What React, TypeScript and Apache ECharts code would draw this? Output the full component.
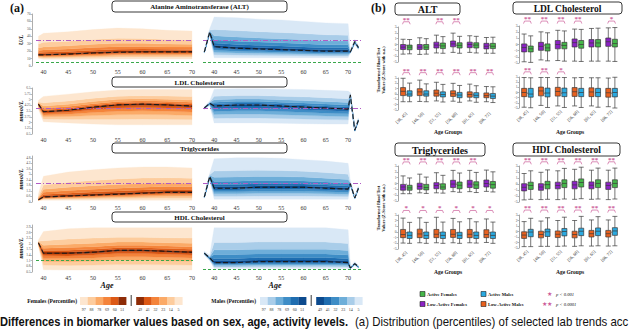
import React, { useEffect, useRef } from 'react';
import * as echarts from 'echarts';

// ---------------- Panel (a): percentile fans ----------------
const AGE_TICKS = [40, 45, 50, 55, 60, 65, 70];
const FEMALE_AGES = [39, 40, 45, 50, 55, 60, 65, 70];
const MALE_AGES = [37.8, 39, 40, 45, 50, 55, 60, 65, 70, 70.5, 71.5, 72.3];

// ALT (U/L)
const ALT_F_MEDIAN = [15, 15, 16, 17.5, 18.5, 19, 19, 19];
const ALT_F_P97 = [40, 44, 46, 49, 51, 50, 48, 47];
const ALT_F_P5 = [10, 9, 9, 9, 9.5, 9.5, 9.5, 9.5];
const ALT_M_MEDIAN = [19, 46, 26, 24, 23, 22, 21, 20, 20, 19, 33, 25];
const ALT_M_P97 = [21, 50, 66, 65, 63, 62, 60, 58, 57, 21, 36, 28];
const ALT_M_P5 = [17, 42, 11, 11, 11, 11, 11, 11, 11, 17, 29, 22];

// LDL cholesterol (mmol/L)
const LDL_F_MEDIAN = [4.4, 3.4, 3.6, 4.0, 4.3, 4.4, 4.3, 4.15];
const LDL_F_P97 = [4.9, 5.4, 5.7, 6.0, 6.25, 6.3, 6.3, 6.3];
const LDL_F_P5 = [3.7, 2.1, 1.95, 1.8, 1.7, 1.7, 1.7, 1.7];
const LDL_M_MEDIAN = [3.9, 4.5, 4.15, 4.28, 4.28, 4.15, 4.02, 3.89, 3.75, 5.6, 1.0, 2.3];
const LDL_M_P97 = [4.1, 4.8, 6.35, 6.4, 6.4, 6.35, 6.3, 6.2, 6.1, 5.9, 1.3, 2.6];
const LDL_M_P5 = [3.7, 4.2, 1.95, 1.95, 1.95, 1.9, 1.85, 1.8, 1.8, 5.3, 0.8, 2.0];

// Triglycerides (mmol/L)
const TRI_F_MEDIAN = [0.25, 0.55, 0.65, 0.75, 0.85, 0.95, 1.05, 1.05];
const TRI_F_P97 = [0.9, 2.8, 3.25, 3.5, 3.7, 3.8, 3.8, 3.7];
const TRI_F_P5 = [0.15, 0.2, 0.2, 0.2, 0.2, 0.2, 0.2, 0.2];
const TRI_M_MEDIAN = [0.55, 2.8, 1.5, 1.5, 1.6, 1.6, 1.6, 1.5, 1.4, 2.0, 0.45, 1.5];
const TRI_M_P97 = [0.7, 3.1, 4.7, 4.8, 4.8, 4.75, 4.6, 4.45, 4.2, 2.3, 0.6, 1.7];
const TRI_M_P5 = [0.4, 2.4, 0.3, 0.3, 0.3, 0.3, 0.3, 0.3, 0.3, 1.7, 0.3, 1.3];

// HDL cholesterol (mmol/L)
const HDL_F_MEDIAN = [2.05, 1.5, 1.5, 1.55, 1.65, 1.65, 1.6, 1.55];
const HDL_F_P97 = [2.2, 2.65, 2.8, 2.85, 2.85, 2.85, 2.85, 2.85];
const HDL_F_P5 = [1.9, 0.62, 0.6, 0.6, 0.6, 0.6, 0.6, 0.6];
const HDL_M_MEDIAN = [1.5, 1.25, 1.0, 1.0, 1.05, 1.05, 1.05, 1.05, 1.0, 0.72, 0.95, 0.78];
const HDL_M_P97 = [1.6, 1.4, 2.85, 2.85, 2.85, 2.85, 2.85, 2.85, 2.75, 0.8, 1.05, 0.85];
const HDL_M_P5 = [1.4, 1.1, 0.68, 0.68, 0.68, 0.68, 0.68, 0.68, 0.68, 0.66, 0.85, 0.7];

// relative position of the inner percentiles between median and the 5th / 97th
const LOWER_FRAC = [1, 0.72, 0.5, 0.32, 0.16, 0.05]; // p5 p14 p23 p32 p41 p49
const UPPER_FRAC = [0.05, 0.12, 0.23, 0.37, 0.58, 1]; // p51 p60 p69 p78 p88 p97
const BAND_SHADE = [0, 1, 2, 3, 4, 5, 4, 3, 2, 1, 0];

const LEGEND_UP = ['97', '88', '78', '69', '60', '51'];
const LEGEND_DOWN = ['49', '41', '32', '23', '14', '5'];

// ---------------- Panel (b): box plots ----------------
const AGE_GROUPS = ['[38, 45]', '[46, 50]', '[51, 55]', '[56, 60]', '[61, 65]', '[66, 72]'];

const ALT_LOW_F = [[-1.65, -0.85, -0.45, 0.0, 0.9], [-1.7, -0.85, -0.45, 0.0, 1.15], [-1.45, -0.6, -0.1, 0.4, 1.6], [-1.35, -0.4, 0.1, 0.6, 1.95], [-1.35, -0.55, 0.0, 0.4, 1.5], [-1.5, -0.75, -0.3, 0.2, 1.2]];
const ALT_ACT_F = [[-1.6, -0.9, -0.45, -0.1, 0.85], [-1.65, -0.85, -0.45, 0.0, 1.0], [-1.5, -0.7, -0.25, 0.25, 1.35], [-1.5, -0.6, -0.15, 0.3, 1.4], [-1.45, -0.6, -0.1, 0.3, 1.4], [-1.5, -0.7, -0.3, 0.2, 1.25]];
const ALT_LOW_M = [[-1.45, -0.3, 0.5, 1.2, 2.95], [-1.4, -0.3, 0.4, 1.0, 2.6], [-1.3, -0.4, 0.15, 0.75, 2.2], [-1.35, -0.45, 0.05, 0.6, 2.0], [-1.3, -0.6, -0.1, 0.4, 1.85], [-1.45, -0.7, -0.3, 0.2, 1.4]];
const ALT_ACT_M = [[-1.45, -0.4, 0.0, 0.6, 2.05], [-1.45, -0.4, 0.0, 0.6, 1.9], [-1.5, -0.55, -0.1, 0.4, 1.8], [-1.55, -0.7, -0.2, 0.3, 1.6], [-1.55, -0.7, -0.25, 0.25, 1.55], [-1.6, -0.85, -0.4, 0.1, 1.35]];

const LDL_LOW_F = [[-2.8, -1.2, -0.5, 0.1, 1.7], [-2.5, -0.95, -0.3, 0.35, 2.05], [-2.6, -0.7, 0.0, 0.65, 2.3], [-2.7, -0.4, 0.3, 0.9, 2.5], [-2.7, -0.4, 0.25, 0.8, 2.6], [-2.7, -0.3, 0.45, 1.05, 2.7]];
const LDL_ACT_F = [[-2.9, -1.2, -0.7, -0.25, 1.4], [-2.65, -1.05, -0.55, 0.1, 1.9], [-2.7, -0.7, -0.15, 0.35, 2.2], [-2.75, -0.6, 0.0, 0.65, 2.45], [-2.7, -0.4, 0.25, 0.8, 2.65], [-2.75, -0.4, 0.15, 0.85, 2.75]];
const LDL_LOW_M = [[-2.85, -0.8, 0.0, 0.8, 2.9], [-2.5, -0.65, 0.3, 1.05, 2.9], [-2.6, -0.7, 0.2, 1.0, 2.9], [-2.6, -0.75, 0.15, 0.95, 2.85], [-2.6, -0.8, 0.1, 0.9, 2.85], [-2.75, -0.9, -0.05, 0.8, 2.8]];
const LDL_ACT_M = [[-2.95, -0.9, -0.3, 0.8, 2.85], [-2.9, -0.85, -0.1, 0.85, 2.9], [-2.9, -0.8, -0.05, 0.85, 2.9], [-2.9, -0.8, 0.0, 0.8, 2.9], [-2.85, -0.8, 0.0, 0.8, 2.85], [-3.0, -0.85, 0.0, 0.8, 2.95]];

const TRI_LOW_F = [[-1.75, -1.15, -0.6, -0.15, 1.3], [-1.6, -1.0, -0.5, 0.05, 1.6], [-1.6, -0.9, -0.35, 0.15, 1.85], [-1.4, -0.7, -0.1, 0.55, 2.25], [-1.4, -0.7, -0.1, 0.55, 2.25], [-1.35, -0.6, 0.0, 0.6, 2.3]];
const TRI_ACT_F = [[-1.75, -1.15, -0.75, -0.3, 0.95], [-1.7, -1.1, -0.7, -0.15, 1.1], [-1.65, -1.0, -0.6, -0.05, 1.4], [-1.5, -0.9, -0.3, 0.25, 1.8], [-1.55, -0.85, -0.25, 0.3, 1.9], [-1.45, -0.8, -0.2, 0.35, 2.0]];
const TRI_LOW_M = [[-1.95, -1.0, -0.45, 0.45, 2.45], [-1.9, -1.0, -0.35, 0.5, 2.5], [-1.9, -1.0, -0.4, 0.45, 2.6], [-1.9, -0.95, -0.4, 0.45, 2.4], [-1.9, -1.0, -0.4, 0.45, 2.35], [-1.85, -1.0, -0.45, 0.4, 2.3]];
const TRI_ACT_M = [[-2.0, -1.15, -0.6, 0.0, 1.7], [-2.0, -1.15, -0.6, 0.0, 1.7], [-2.0, -1.15, -0.6, 0.0, 1.75], [-2.0, -1.15, -0.6, -0.05, 1.8], [-1.95, -1.15, -0.6, 0.0, 1.8], [-2.0, -1.15, -0.6, 0.0, 1.75]];

const HDL_LOW_F = [[-2.65, -1.15, -0.55, 0.05, 1.75], [-2.6, -1.05, -0.5, 0.05, 1.95], [-2.6, -0.8, -0.25, 0.3, 2.2], [-2.55, -0.8, -0.15, 0.45, 2.45], [-2.55, -0.8, -0.2, 0.35, 2.3], [-2.6, -0.9, -0.25, 0.3, 2.3]];
const HDL_ACT_F = [[-2.55, -0.9, -0.25, 0.3, 2.2], [-2.55, -0.8, -0.1, 0.45, 2.35], [-2.5, -0.6, 0.1, 0.7, 2.6], [-2.45, -0.5, 0.25, 0.85, 2.8], [-2.5, -0.6, 0.1, 0.7, 2.65], [-2.5, -0.6, 0.1, 0.7, 2.65]];
const HDL_LOW_M = [[-2.75, -1.25, -0.65, -0.05, 1.8], [-2.7, -1.15, -0.55, 0.05, 1.9], [-2.7, -1.1, -0.5, 0.1, 2.0], [-2.7, -1.15, -0.55, 0.05, 2.0], [-2.65, -1.0, -0.4, 0.2, 2.1], [-2.65, -1.0, -0.4, 0.2, 2.1]];
const HDL_ACT_M = [[-2.75, -0.95, -0.1, 0.4, 2.4], [-2.7, -0.9, -0.05, 0.45, 2.5], [-2.65, -0.8, 0.0, 0.55, 2.6], [-2.6, -0.75, 0.05, 0.6, 2.75], [-2.6, -0.75, 0.05, 0.65, 2.7], [-2.6, -0.7, 0.1, 0.7, 2.75]];

const ALT_SIG_F = ['**', '', '**', '**', '', ''];
const ALT_SIG_M = ['**', '**', '**', '**', '**', '**'];
const LDL_SIG_F = ['**', '**', '**', '**', '', '*'];
const LDL_SIG_M = ['**', '**', '*', '', '', ''];
const TRI_SIG_F = ['**', '**', '**', '**', '**', ''];
const TRI_SIG_M = ['*', '*', '*', '*', '*', '*'];
const HDL_SIG_F = ['**', '**', '**', '**', '**', '**'];
const HDL_SIG_M = ['**', '**', '**', '**', '**', '**'];

// ---------------- styles ----------------
const SERIF = '"Liberation Serif", "DejaVu Serif", serif';
const SANS = '"Liberation Sans", Arial, sans-serif';
const F_COLORS = ['#fde6cf', '#fdcc9d', '#fbaa67', '#f4843b', '#dc5916', '#8e2c07'];
const M_COLORS = ['#d9e8f6', '#a9cde9', '#6eaed9', '#3e8dc6', '#1f6db0', '#0c4a8e'];
const PURPLE_REF = '#b15cc4';
const GREEN_REF = '#3aa84b';
const C_LOW_F = '#8b22c4';
const C_ACT_F = '#45b649';
const C_LOW_M = '#e8611f';
const C_ACT_M = '#2aa9e0';
const PINK = '#cc5c98';

type Ref = { v: number; c: string; t: number[] };

function fanSeries(g: number, ages: number[], med: number[], p97: number[], p5: number[], colors: string[], refs: Ref[]) {
  const curves: number[][] = [
    ...LOWER_FRAC.map((f) => med.map((m, i) => m - f * (m - p5[i]))),
    ...UPPER_FRAC.map((f) => med.map((m, i) => m + f * (p97[i] - m))),
  ];
  const bands = {
    type: 'custom', xAxisIndex: g, yAxisIndex: g, silent: true, z: 2,
    data: BAND_SHADE.map((_s, k) => [ages[0], med[0], k]),
    renderItem: (params: any, api: any) => {
      const k = params.dataIndex;
      const top = ages.map((a, i) => api.coord([a, curves[k + 1][i]]));
      const bot = ages.map((a, i) => api.coord([a, curves[k][i]])).reverse();
      const col = colors[BAND_SHADE[k]];
      return { type: 'polygon', shape: { points: top.concat(bot) }, style: { fill: col, stroke: col, lineWidth: 0.3 } };
    },
  };
  const median = {
    type: 'line', xAxisIndex: g, yAxisIndex: g, symbol: 'none', silent: true, z: 5,
    lineStyle: { color: '#1a1a1a', width: 1.1, type: [5, 2.5] },
    data: ages.map((a, i) => [a, med[i]]),
    markLine: {
      silent: true, symbol: ['none', 'none'], label: { show: false },
      data: refs.map((r) => ({ yAxis: r.v, lineStyle: { color: r.c, width: 1, type: r.t } })),
    },
  };
  return [bands, median];
}

function boxSeries(g: number, left: number[][], right: number[][], cl: string, cr: string) {
  const mk = (data: number[][], color: string) => ({
    type: 'boxplot', xAxisIndex: g, yAxisIndex: g, data, boxWidth: [5, 6], silent: true, z: 3,
    itemStyle: { color, borderColor: '#3a3a3a', borderWidth: 0.7 },
  });
  return [mk(left, cl), mk(right, cr)];
}

function sigSeries(g: number, sig: string[], yv: number) {
  return {
    type: 'custom', xAxisIndex: g, yAxisIndex: g, silent: true, clip: false, z: 6,
    data: sig.map((s, i) => (s ? [i, yv] : null)).filter((d) => d !== null),
    renderItem: (params: any, api: any) => {
      const idx = api.value(0);
      const star = sig[idx];
      const c = api.coord([idx, api.value(1)]);
      const bw = api.size([1, 0])[0];
      const x1 = c[0] - bw * 0.23;
      const x2 = c[0] + bw * 0.23;
      return {
        type: 'group',
        children: [
          { type: 'polyline', shape: { points: [[x1, c[1] + 2.5], [x1 + 1, c[1]], [x2 - 1, c[1]], [x2, c[1] + 2.5]] }, style: { stroke: PINK, fill: 'none', lineWidth: 0.7 } },
          { type: 'text', style: { text: star, x: c[0], y: c[1] + 1.5, align: 'center', verticalAlign: 'bottom', fill: PINK, font: 'bold 7px ' + SERIF } },
        ],
      };
    },
  };
}

export default function App() {
  const ref = useRef<HTMLDivElement>(null);
  useEffect(() => {
    if (!ref.current) return;
    const chart = echarts.init(ref.current, null, { renderer: 'svg' });

    const fanGrids = [
      [36, 14, 157, 52], [203, 14, 158.5, 52],
      [36, 88, 157, 46], [203, 88, 158.5, 46],
      [36, 156, 157, 46], [203, 156, 158.5, 46],
      [36, 225, 157, 47], [203, 225, 158.5, 47],
    ];
    const fanY = [[0, 70], [0, 70], [0.5, 6.5], [0.5, 6.5], [0, 5], [0, 5], [0.5, 3], [0.5, 3]];
    const fanYTicks = [
      [0, 10, 20, 30, 40, 50, 60, 70],
      [],
      [0.5, 1.25, 2, 2.75, 3.5, 4.25, 5, 5.75, 6.5],
      [],
      [0, 0.6, 1.2, 1.8, 2.4, 3.0, 3.6, 4.2, 4.8],
      [],
      [0.5, 0.8, 1.1, 1.4, 1.7, 2.0, 2.3, 2.6, 2.9],
      [],
    ];
    const boxGrids = [
      [398, 27, 100, 35], [398, 78, 100, 32],
      [519, 26, 101, 37], [519, 77, 101, 31],
      [398, 166, 100, 35], [398, 215, 100, 34],
      [519, 166, 101, 36], [519, 215, 101, 33],
    ];

    const grid: any[] = [];
    const xAxis: any[] = [];
    const yAxis: any[] = [];
    fanGrids.forEach((r, i) => {
      const male = i % 2 === 1;
      grid.push({ left: r[0], top: r[1], width: r[2], height: r[3] });
      xAxis.push({
        type: 'value', gridIndex: i, min: male ? 37.5 : 38.5, max: male ? 73 : 70.2,
        axisLine: { show: false }, axisTick: { show: false }, splitLine: { show: false },
        axisLabel: { customValues: AGE_TICKS, fontSize: 6, fontFamily: SERIF, color: '#333', margin: 3 },
      });
      yAxis.push({
        type: 'value', gridIndex: i, min: fanY[i][0], max: fanY[i][1], show: !male, offset: 4,
        splitLine: { show: false },
        axisLine: { show: true, lineStyle: { color: '#777', width: 0.6 } },
        axisTick: { show: true, length: 1.5, customValues: fanYTicks[i], lineStyle: { color: '#777', width: 0.5 } },
        axisLabel: { customValues: fanYTicks[i], fontSize: 3.5, color: '#555', margin: 1.5, fontFamily: SERIF },
      });
    });
    boxGrids.forEach((r, j) => {
      const i = 8 + j;
      const lower = j % 2 === 1;
      grid.push({ left: r[0], top: r[1], width: r[2], height: r[3] });
      xAxis.push({
        type: 'category', gridIndex: i, data: AGE_GROUPS,
        axisLine: { show: false },
        axisTick: { show: true, alignWithLabel: true, length: 1.5, lineStyle: { color: '#555', width: 0.5 } },
        axisLabel: { show: lower, rotate: 45, fontSize: 4.5, margin: 3, interval: 0, fontFamily: SERIF, color: '#333' },
      });
      yAxis.push({
        type: 'value', gridIndex: i, min: -3, max: 3, interval: 1,
        splitLine: { show: false },
        axisLine: { show: true, lineStyle: { color: '#666', width: 0.6 } },
        axisTick: { show: true, length: 1.5, lineStyle: { color: '#666', width: 0.5 } },
        axisLabel: { fontSize: 3.5, color: '#555', margin: 1.5, fontFamily: SERIF },
      });
    });

    const pRef = (v: number): Ref => ({ v, c: PURPLE_REF, t: [5, 2, 1, 2] });
    const gRef = (v: number): Ref => ({ v, c: GREEN_REF, t: [3, 2] });

    const series: any[] = [
      ...fanSeries(0, FEMALE_AGES, ALT_F_MEDIAN, ALT_F_P97, ALT_F_P5, F_COLORS, [pRef(34), gRef(5)]),
      ...fanSeries(1, MALE_AGES, ALT_M_MEDIAN, ALT_M_P97, ALT_M_P5, M_COLORS, [pRef(34), gRef(5)]),
      ...fanSeries(2, FEMALE_AGES, LDL_F_MEDIAN, LDL_F_P97, LDL_F_P5, F_COLORS, [pRef(3.9)]),
      ...fanSeries(3, MALE_AGES, LDL_M_MEDIAN, LDL_M_P97, LDL_M_P5, M_COLORS, [pRef(3.9)]),
      ...fanSeries(4, FEMALE_AGES, TRI_F_MEDIAN, TRI_F_P97, TRI_F_P5, F_COLORS, [pRef(2.05)]),
      ...fanSeries(5, MALE_AGES, TRI_M_MEDIAN, TRI_M_P97, TRI_M_P5, M_COLORS, [pRef(2.05)]),
      ...fanSeries(6, FEMALE_AGES, HDL_F_MEDIAN, HDL_F_P97, HDL_F_P5, F_COLORS, [gRef(1.15)]),
      ...fanSeries(7, MALE_AGES, HDL_M_MEDIAN, HDL_M_P97, HDL_M_P5, M_COLORS, [gRef(0.62)]),
      ...boxSeries(8, ALT_LOW_F, ALT_ACT_F, C_LOW_F, C_ACT_F),
      ...boxSeries(9, ALT_LOW_M, ALT_ACT_M, C_LOW_M, C_ACT_M),
      ...boxSeries(10, LDL_LOW_F, LDL_ACT_F, C_LOW_F, C_ACT_F),
      ...boxSeries(11, LDL_LOW_M, LDL_ACT_M, C_LOW_M, C_ACT_M),
      ...boxSeries(12, TRI_LOW_F, TRI_ACT_F, C_LOW_F, C_ACT_F),
      ...boxSeries(13, TRI_LOW_M, TRI_ACT_M, C_LOW_M, C_ACT_M),
      ...boxSeries(14, HDL_LOW_F, HDL_ACT_F, C_LOW_F, C_ACT_F),
      ...boxSeries(15, HDL_LOW_M, HDL_ACT_M, C_LOW_M, C_ACT_M),
      sigSeries(8, ALT_SIG_F, 3.9),
      sigSeries(9, ALT_SIG_M, 4.0),
      sigSeries(10, LDL_SIG_F, 3.8),
      sigSeries(11, LDL_SIG_M, 4.0),
      sigSeries(12, TRI_SIG_F, 3.7),
      sigSeries(13, TRI_SIG_M, 3.8),
      sigSeries(14, HDL_SIG_F, 3.7),
      sigSeries(15, HDL_SIG_M, 3.9),
    ];

    const graphic: any[] = [];
    const txt = (x: number, y: number, text: string, font: string, extra: any = {}, el: any = {}) =>
      graphic.push({ type: 'text', x, y, silent: true, ...el, style: { text, font, fill: '#111', ...extra } });
    const titleBox = (x: number, y: number, w: number, h: number, text: string, size: number) => {
      graphic.push({ type: 'rect', silent: true, shape: { x, y, width: w, height: h, r: 3 }, style: { fill: '#fff', stroke: '#222', lineWidth: 0.9 } });
      txt(x + w / 2, y + h / 2 + 0.5, text, `bold ${size}px ${SERIF}`, { align: 'center', verticalAlign: 'middle' });
    };

    txt(10, 2, '(a)', `bold 12px ${SERIF}`, { verticalAlign: 'top' });
    txt(371, 2, '(b)', `bold 12px ${SERIF}`, { verticalAlign: 'top' });

    titleBox(112, 1, 175, 11, 'Alanine Aminotransferase (ALT)', 7);
    titleBox(112, 77, 175, 10, 'LDL Cholesterol', 7);
    titleBox(112, 143, 175, 10, 'Triglycerides', 7);
    titleBox(112, 212, 175, 10, 'HDL Cholesterol', 7);

    const yName = (y: number, text: string) =>
      txt(20, y, text, `italic bold 6.5px ${SERIF}`, { align: 'center', verticalAlign: 'middle' }, { rotation: Math.PI / 2 });
    yName(40, 'U/L');
    yName(111, 'mmol/L');
    yName(179, 'mmol/L');
    yName(248, 'mmol/L');
    txt(107, 285, 'Age', `italic bold 8px ${SERIF}`, { align: 'center', verticalAlign: 'middle' });
    txt(275, 285, 'Age', `italic bold 8px ${SERIF}`, { align: 'center', verticalAlign: 'middle' });

    const colorBar = (label: string, labelRight: number, x0: number, colors: string[]) => {
      txt(labelRight, 301, label, `bold 5.5px ${SERIF}`, { align: 'right', verticalAlign: 'middle' });
      const w = 7.7;
      for (let k = 0; k < 6; k++) {
        graphic.push({ type: 'rect', silent: true, shape: { x: x0 + k * w, y: 297, width: w + 0.2, height: 8 }, style: { fill: colors[k] } });
        txt(x0 + k * w + w / 2, 309, LEGEND_UP[k], `4px ${SERIF}`, { align: 'center', verticalAlign: 'middle', fill: '#333' });
      }
      const sx = x0 + 6 * w + 5;
      graphic.push({ type: 'line', silent: true, shape: { x1: sx, y1: 295, x2: sx, y2: 306 }, style: { stroke: '#222', lineWidth: 0.9 } });
      const x1 = sx + 5;
      for (let k = 0; k < 6; k++) {
        graphic.push({ type: 'rect', silent: true, shape: { x: x1 + k * w, y: 297, width: w + 0.2, height: 8 }, style: { fill: colors[5 - k] } });
        txt(x1 + k * w + w / 2, 309, LEGEND_DOWN[k], `4px ${SERIF}`, { align: 'center', verticalAlign: 'middle', fill: '#333' });
      }
    };
    colorBar('Females (Percentiles)', 77, 80, F_COLORS);
    colorBar('Males (Percentiles)', 256, 260, M_COLORS);

    titleBox(395, 3, 65, 12, 'ALT', 10);
    titleBox(513, 2, 109, 12, 'LDL Cholesterol', 9.5);
    titleBox(395, 143, 90, 13, 'Triglycerides', 10);
    titleBox(513, 143, 107, 13, 'HDL Cholesterol', 9.5);

    const boxYName = (y: number) =>
      txt(381, y, 'Transformed Blood Test\nValues (Z-Score with a.u.)', `bold 4.3px ${SERIF}`, { align: 'center', verticalAlign: 'middle', lineHeight: 5.5 }, { rotation: Math.PI / 2 });
    boxYName(70);
    boxYName(208);
    const ag = (x: number, y: number) => txt(x, y, 'Age Groups', `bold 5.5px ${SERIF}`, { align: 'center', verticalAlign: 'middle' });
    ag(448, 132);
    ag(570, 132);
    ag(448, 272);
    ag(570, 272);

    const sq = (x: number, y: number, color: string, label: string) => {
      graphic.push({ type: 'rect', silent: true, shape: { x, y: y - 2.5, width: 5, height: 5 }, style: { fill: color, stroke: '#222', lineWidth: 0.6 } });
      txt(x + 7, y, label, `bold 4.6px ${SERIF}`, { verticalAlign: 'middle' });
    };
    sq(420, 294, C_ACT_F, 'Active Females');
    sq(481, 294, C_ACT_M, 'Active Males');
    sq(420, 304, C_LOW_F, 'Low-Active Females');
    sq(481, 304, C_LOW_M, 'Low-Active Males');
    txt(552, 294, '\u2605', `6px ${SANS}`, { align: 'right', verticalAlign: 'middle', fill: PINK });
    txt(552, 304, '\u2605\u2605', `6px ${SANS}`, { align: 'right', verticalAlign: 'middle', fill: PINK });
    txt(556, 294, 'p < 0.001', `italic 4.6px ${SERIF}`, { verticalAlign: 'middle' });
    txt(556, 304, 'p < 0.0001', `italic 4.6px ${SERIF}`, { verticalAlign: 'middle' });

    // caption below the figure
    txt(0, 315, 'Differences in biomarker values based on sex, age, activity levels.', `bold 13px ${SANS}`, { verticalAlign: 'top' }, { scaleX: 0.855 });
    txt(355, 315, '(a) Distribution (percentiles) of selected lab trends acc', `13px ${SANS}`, { verticalAlign: 'top' }, { scaleX: 0.88 });

    chart.setOption({
      animation: false,
      backgroundColor: '#ffffff',
      textStyle: { fontFamily: SERIF },
      grid, xAxis, yAxis, series, graphic,
    });
    return () => chart.dispose();
  }, []);
  return <div ref={ref} style={{ position: 'absolute', left: 0, top: 0, width: 640, height: 329 }} />;
}
